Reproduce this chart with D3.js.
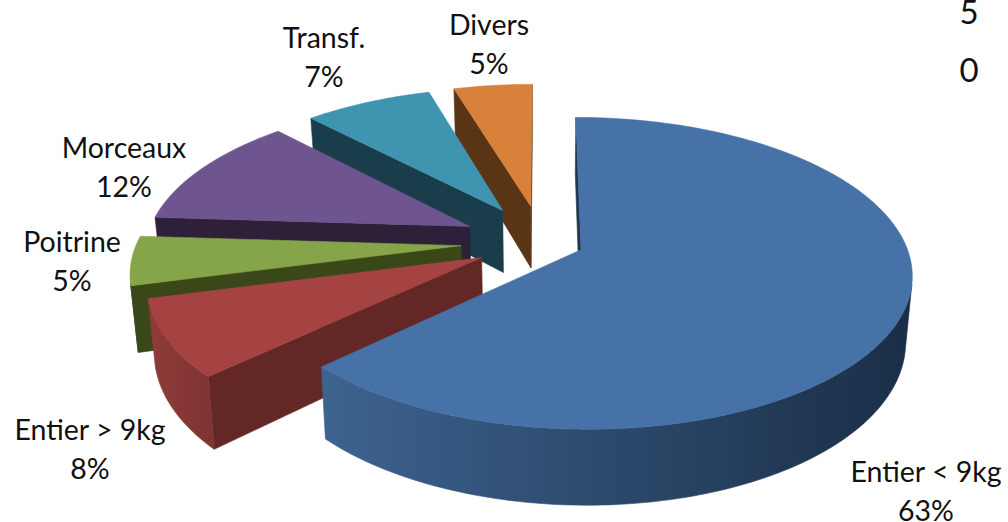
<!DOCTYPE html>
<html lang="en">
<head>
<meta charset="utf-8">
<title>pie 3d</title>
<script src="https://cdn.jsdelivr.net/npm/d3@7"></script>
<style>
  html,body{margin:0;padding:0;background:#fff;overflow:hidden}
  text{font-family:Lato,"Open Sans",sans-serif;font-size:28.5px;fill:#111;text-anchor:middle}
  .left{font-size:33px}
</style>
</head>
<body>
<div id="chart"></div>
<script>
var categories = ["Entier < 9kg","Entier > 9kg","Poitrine","Morceaux","Transf.","Divers"]
var shares = [62.9,8.0,5.1,11.9,7.5,4.6]
var percentLabels = ["63%","8%","5%","12%","7%","5%"]
var axisLeftovers = ["5","0"]

// pulled out pieces, as a share of the radius
var explode = [0.13,0.21,0.25,0.25,0.25,0.25]
var topColors = ["#4672a8","#a44341","#86a44a","#6f5590","#3f95b0","#d8813a"]
var wallColors = ["#1f3651","#632826","#3a4718","#2e2038","#1a3d4c","#5a3515"]
var rimLight = ["#3d638f","#8f3b39","#3a4718","#2e2038","#1a3d4c","#5a3515"]
var rimDark = ["#1a2e47","#7f3432","#3a4718","#2e2038","#1a3d4c","#5a3515"]
var labelSpots = [[926,482],[90,440],[72,252],[124,158],[324,48],[489,35]]

var w = 1008, h = 522
var radiusX = 324, radiusY = 150, depth = 64, persp = 0.15

var sx = d3.scaleLinear().domain([0,1]).range([542,542+radiusX])
var sy = d3.scaleLinear().domain([0,1]).range([242,242+radiusY])

var svg = d3.select("#chart").append("svg").attr("width",w).attr("height",h)
var defs = svg.append("defs")

var arcs = d3.pie().sort(null).value(function(d){return d})(shares)

// disk coordinates to screen, z=1 is the underside of the pie
function project(X,Y,z){
  var p = 1/(1-persp*Y)
  var squeeze = 1-0.018*z
  return [sx(X*p*squeeze), sy(Y*p)+depth*p*z]
}

function rimPoint(d,i,a,r,z){
  var mid = (d.startAngle+d.endAngle)/2
  var e = explode[i]
  var X = e*Math.sin(mid)+r*Math.sin(a)
  var Y = -e*Math.cos(mid)-r*Math.cos(a)
  return project(X,Y,z)
}

function poly(pts,color){
  svg.append("path")
    .attr("d",d3.line()(pts)+"Z")
    .attr("fill",color)
    .attr("stroke",color)
    .attr("stroke-width",0.6)
}

function area2(pts){
  var s = 0
  for(var i=0;i<pts.length;i++){
    var a = pts[i], b = pts[(i+1)%pts.length]
    s += a[0]*b[1]-b[0]*a[1]
  }
  return s
}

function drawWall(d,i,a,flip){
  var pts = [rimPoint(d,i,a,0,0),rimPoint(d,i,a,1,0),rimPoint(d,i,a,1,1),rimPoint(d,i,a,0,1)]
  if(area2(pts)*flip<0){ poly(pts,wallColors[i]) }
}

function drawRim(d,i){
  var steps = Math.ceil((d.endAngle-d.startAngle)*60)
  var upper = [], lower = []
  for(var s=0;s<steps;s++){
    var a0 = d.startAngle+(d.endAngle-d.startAngle)*s/steps
    var a1 = d.startAngle+(d.endAngle-d.startAngle)*(s+1)/steps
    var quad = [rimPoint(d,i,a0,1,0),rimPoint(d,i,a1,1,0),rimPoint(d,i,a1,1,1),rimPoint(d,i,a0,1,1)]
    if(area2(quad)>0){ continue }
    if(upper.length==0){ upper.push(quad[0]); lower.push(quad[3]) }
    upper.push(quad[1])
    lower.push(quad[2])
  }
  if(upper.length==0){ return }
  var pts = upper.concat(lower.reverse())
  var xs = d3.extent(pts,function(p){return p[0]})
  var grad = defs.append("linearGradient")
    .attr("id","rim"+i)
    .attr("gradientUnits","userSpaceOnUse")
    .attr("x1",xs[0]).attr("x2",xs[1]).attr("y1",0).attr("y2",0)
  grad.append("stop").attr("offset",0).attr("stop-color",rimLight[i])
  grad.append("stop").attr("offset",1).attr("stop-color",rimDark[i])
  poly(pts,"url(#rim"+i+")")
}

function drawTop(d,i){
  var pts = [rimPoint(d,i,d.startAngle,0,0)]
  var steps = Math.ceil((d.endAngle-d.startAngle)*60)
  for(var s=0;s<=steps;s++){
    pts.push(rimPoint(d,i,d.startAngle+(d.endAngle-d.startAngle)*s/steps,1,0))
  }
  poly(pts,topColors[i])
}

// painter order, the back of the pie first and the big slice last
var order = [5,4,3,2,1,0]
order.forEach(function(i){
  var d = arcs[i]
  drawWall(d,i,d.startAngle,1)
  drawWall(d,i,d.endAngle,-1)
  drawRim(d,i)
  drawTop(d,i)
})

var labels = svg.selectAll(".label")
  .data(categories)
  .enter()
  .append("text")
  .attr("class","label")
  .attr("x",function(d,i){return labelSpots[i][0]})
  .attr("y",function(d,i){return labelSpots[i][1]})
labels.append("tspan").text(function(d){return d})
labels.append("tspan")
  .attr("x",function(d,i){return labelSpots[i][0]})
  .attr("dy",39)
  .text(function(d,i){return percentLabels[i]})

svg.selectAll(".left")
  .data(axisLeftovers)
  .enter()
  .append("text")
  .attr("class","left")
  .attr("x",969)
  .attr("y",function(d,i){return 24+i*58})
  .text(function(d){return d})
</script>
</body>
</html>
